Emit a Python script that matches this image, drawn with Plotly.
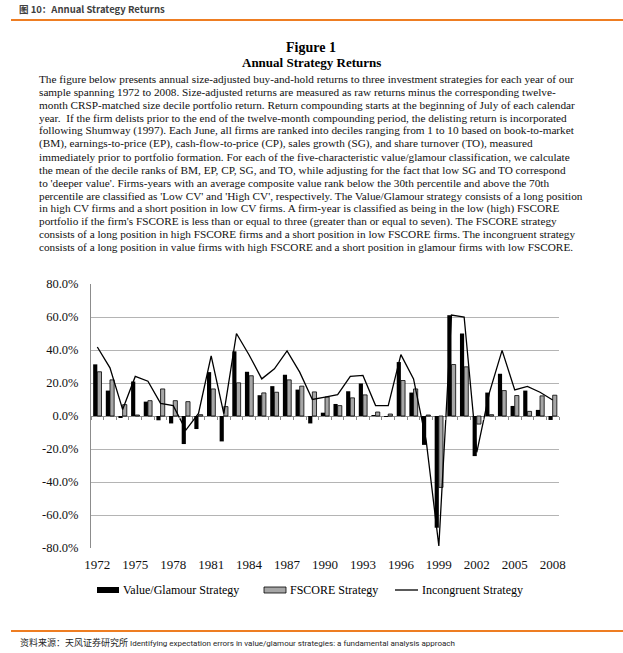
import plotly.graph_objects as go

# ---------------- data ----------------
years = [1972, 1973, 1974, 1975, 1976, 1977, 1978, 1979, 1980, 1981, 1982, 1983,
         1984, 1985, 1986, 1987, 1988, 1989, 1990, 1991, 1992, 1993, 1994, 1995,
         1996, 1997, 1998, 1999, 2000, 2001, 2002, 2003, 2004, 2005, 2006, 2007, 2008]

value_glamour = [31.3, 15.4, -0.8, 20.9, 8.7, -2.6, -4.5, -17.0, -7.9, 26.6, -15.4, 39.2,
                 26.8, 12.6, 18.1, 25.0, 16.0, -4.5, 2.0, 7.3, 15.0, 19.7, 0.3, -0.4,
                 32.7, 14.2, -17.5, -67.7, 61.1, 50.0, -24.3, 14.2, 25.6, 6.1, 15.4, 3.7, -2.4]

fscore = [26.8, 21.9, 6.9, 0.6, 9.3, 16.4, 9.3, 8.7, 0.8, 16.4, 5.7, 20.1,
          24.4, 14.0, 14.4, 21.9, 18.1, 14.6, 11.5, 6.3, 11.0, 12.8, 2.4, 1.2,
          21.5, 16.4, 0.6, -43.3, 31.2, 29.8, -4.9, 0.8, 15.4, 12.4, 2.8, 12.2, 12.6]

incongruent = [41.8, 29.2, 4.0, 24.0, 21.1, 7.7, 6.3, -8.5, 1.6, 36.5, 1.5, 50.0,
               37.0, 22.5, 28.6, 39.4, 26.6, 10.0, 11.5, 13.0, 24.0, 24.6, 6.3, 6.3,
               37.2, 22.5, -15.0, -78.8, 61.2, 60.0, -22.0, 14.2, 39.8, 15.8, 17.9, 14.4, 9.7]

x_tick_years = [1972, 1975, 1978, 1981, 1984, 1987, 1990, 1993, 1996, 1999, 2002, 2005, 2008]
y_tick_vals = [-80, -60, -40, -20, 0, 20, 40, 60, 80]
y_tick_text = ["-80.0%", "-60.0%", "-40.0%", "-20.0%", "0.0%", "20.0%", "40.0%", "60.0%", "80.0%"]

series_names = ["Value/Glamour Strategy", "FSCORE Strategy", "Incongruent Strategy"]

header_text = "图 10：Annual Strategy Returns"
fig_title = "Figure 1"
fig_subtitle = "Annual Strategy Returns"
paragraph = [
    "The figure below presents annual size-adjusted buy-and-hold returns to three investment strategies for each year of our",
    "sample spanning 1972 to 2008. Size-adjusted returns are measured as raw returns minus the corresponding twelve-",
    "month CRSP-matched size decile portfolio return. Return compounding starts at the beginning of July of each calendar",
    "year.  If the firm delists prior to the end of the twelve-month compounding period, the delisting return is incorporated",
    "following Shumway (1997). Each June, all firms are ranked into deciles ranging from 1 to 10 based on book-to-market",
    "(BM), earnings-to-price (EP), cash-flow-to-price (CP), sales growth (SG), and share turnover (TO), measured",
    "immediately prior to portfolio formation. For each of the five-characteristic value/glamour classification, we calculate",
    "the mean of the decile ranks of BM, EP, CP, SG, and TO, while adjusting for the fact that low SG and TO correspond",
    "to 'deeper value'. Firms-years with an average composite value rank below the 30th percentile and above the 70th",
    "percentile are classified as 'Low CV' and 'High CV', respectively. The Value/Glamour strategy consists of a long position",
    "in high CV firms and a short position in low CV firms. A firm-year is classified as being in the low (high) FSCORE",
    "portfolio if the firm's FSCORE is less than or equal to three (greater than or equal to seven). The FSCORE strategy",
    "consists of a long position in high FSCORE firms and a short position in low FSCORE firms. The incongruent strategy",
    "consists of a long position in value firms with high FSCORE and a short position in glamour firms with low FSCORE.",
]
source_cn = "资料来源：天风证券研究所"
source_en = "Identifying expectation errors in value/glamour strategies: a fundamental analysis approach"

# ---------------- layout helpers (page pixel coordinates) ----------------
W, H = 623, 653
L, R, T, B = 91, 559, 284, 548   # plot area in page pixels


def px(x):
    return (x - L) / (R - L)


def py(y):
    return (B - y) / (B - T)


SERIF = "Liberation Serif"
ORANGE = "#EE7D22"
AXIS_GRAY = "#8c8c8c"
GRID_GRAY = "#b4b4b4"

fig = go.Figure()
fig.add_trace(go.Bar(x=years, y=value_glamour, name=series_names[0],
                     marker=dict(color="#000000", line=dict(width=0)), showlegend=False))
fig.add_trace(go.Bar(x=years, y=fscore, name=series_names[1],
                     marker=dict(color="#a6a6a6", line=dict(color="#000000", width=0.8)),
                     showlegend=False))
fig.add_trace(go.Scatter(x=years, y=incongruent, name=series_names[2], mode="lines",
                         line=dict(color="#000000", width=1.3), xaxis="x2",
                         showlegend=False))

boundaries = [y - 0.5 for y in years] + [years[-1] + 0.5]
xrange = [years[0] - 0.5, years[-1] + 0.5]

annotations = []
shapes = []

# header
annotations.append(dict(text="<b>" + header_text + "</b>", x=px(17), y=py(9), xref="paper", yref="paper",
                        xanchor="left", yanchor="middle", showarrow=False,
                        font=dict(family="Noto Sans CJK SC", size=9.5, color="#404040")))
shapes.append(dict(type="line", xref="paper", yref="paper", x0=px(11), x1=px(623), y0=py(20), y1=py(20),
                   line=dict(color=ORANGE, width=2)))
# titles
annotations.append(dict(text="<b>" + fig_title + "</b>", x=px(311), y=py(47), xref="paper", yref="paper",
                        xanchor="center", yanchor="middle", showarrow=False,
                        font=dict(family=SERIF, size=14, color="#000000")))
annotations.append(dict(text="<b>" + fig_subtitle + "</b>", x=px(311), y=py(62), xref="paper", yref="paper",
                        xanchor="center", yanchor="middle", showarrow=False,
                        font=dict(family=SERIF, size=13, color="#000000")))
# paragraph
for i, line in enumerate(paragraph):
    annotations.append(dict(text=line, x=px(37), y=py(79 + 12.95 * i), xref="paper", yref="paper",
                            xanchor="left", yanchor="middle", showarrow=False,
                            font=dict(family=SERIF, size=11.25, color="#111111")))

# custom legend
leg_y = 590
shapes.append(dict(type="rect", xref="paper", yref="paper", x0=px(97), x1=px(119), y0=py(593), y1=py(587),
                   fillcolor="#000000", line=dict(width=0)))
shapes.append(dict(type="rect", xref="paper", yref="paper", x0=px(264), x1=px(286), y0=py(593), y1=py(587),
                   fillcolor="#a6a6a6", line=dict(color="#000000", width=0.8)))
shapes.append(dict(type="line", xref="paper", yref="paper", x0=px(395), x1=px(418), y0=py(590), y1=py(590),
                   line=dict(color="#000000", width=1.3)))
for txt, xl in zip(series_names, [121, 288, 420]):
    annotations.append(dict(text=txt, x=px(xl), y=py(leg_y), xref="paper", yref="paper",
                            xanchor="left", yanchor="middle", showarrow=False,
                            font=dict(family=SERIF, size=12, color="#000000")))

# footer
shapes.append(dict(type="line", xref="paper", yref="paper", x0=px(11), x1=px(623), y0=py(631), y1=py(631),
                   line=dict(color=ORANGE, width=2)))
annotations.append(dict(
    text=("<span style='font-family:Noto Sans CJK SC;font-size:9px'>" + source_cn + "</span>"
          "<span style='font-family:Roboto;font-size:8px'> " + source_en + "</span>"),
    x=px(18), y=py(642), xref="paper", yref="paper", xanchor="left", yanchor="middle",
    showarrow=False, font=dict(family="Noto Sans CJK SC", size=9, color="#262626")))

fig.update_layout(
    width=W, height=H,
    margin=dict(l=L, r=W - R, t=T, b=H - B, pad=0),
    paper_bgcolor="white", plot_bgcolor="white",
    barmode="group", bargap=0.34, bargroupgap=0.0,
    showlegend=False,
    xaxis=dict(range=xrange, tickmode="array", tickvals=x_tick_years,
               ticktext=[str(v) for v in x_tick_years], ticks="", showgrid=False,
               showline=False, zeroline=False, ticklabelstandoff=7,
               tickfont=dict(family=SERIF, size=13, color="#111111")),
    xaxis2=dict(range=xrange, overlaying="x", anchor="free", position=0.5, side="bottom",
                tickmode="array", tickvals=boundaries, ticks="outside", ticklen=3,
                tickcolor=AXIS_GRAY, tickwidth=1, showticklabels=False, showgrid=False,
                zeroline=False, showline=False),
    yaxis=dict(range=[-80, 80], tickmode="array", tickvals=y_tick_vals, ticktext=y_tick_text,
               showgrid=True, gridcolor=GRID_GRAY, gridwidth=1,
               zeroline=True, zerolinecolor=AXIS_GRAY, zerolinewidth=1,
               showline=True, linecolor=AXIS_GRAY, linewidth=1, ticks="",
               ticklabelstandoff=9,
               tickfont=dict(family=SERIF, size=12.5, color="#111111")),
    annotations=annotations,
    shapes=shapes,
)

fig.write_html("out.html", config={"displayModeBar": False},
               post_script="document.body.style.margin='0px';")
